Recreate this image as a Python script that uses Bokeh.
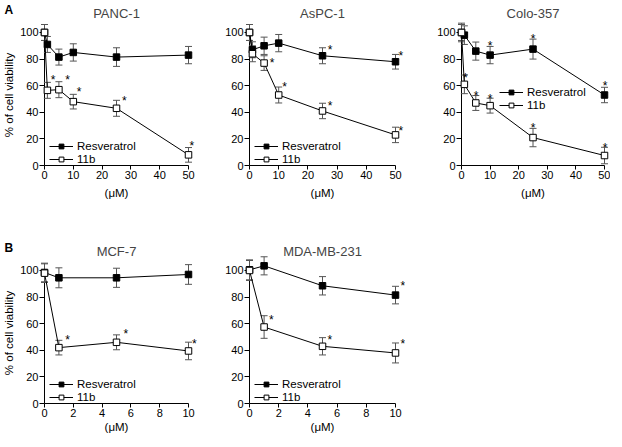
from bokeh.plotting import figure
from bokeh.models import Legend, LegendItem, Range1d
from bokeh.layouts import row, column
from bokeh.embed import file_html
from bokeh.resources import INLINE
from bokeh.core.properties import value

FONT = "Liberation Sans"

# ---------------- data ----------------
conc_A = [0, 1, 5, 10, 25, 50]
conc_B = [0, 1, 5, 10]
ticks_A = [0, 10, 20, 30, 40, 50]
ticks_B = [0, 2, 4, 6, 8, 10]
y_ticks = [0, 20, 40, 60, 80, 100]

panc_res = [100, 91, 81.5, 85, 81.5, 83]
panc_res_err = [6, 6, 6, 6.5, 7, 6.5]
panc_11b = [100, 56.5, 57, 48, 43, 8]
panc_11b_err = [6, 6, 6, 5.5, 6, 5.5]
panc_star_x = [3, 8, 12, 27.7, 51.2]
panc_star_y = [67, 67, 58, 51.5, 18]

aspc_res = [100, 87, 90, 92, 82.5, 78]
aspc_res_err = [6, 6, 6.5, 6.5, 6, 5.5]
aspc_11b = [100, 84, 77, 53, 41, 23]
aspc_11b_err = [6, 6, 5.5, 6, 5.8, 5.8]
aspc_star_x = [7.7, 12, 27.6, 27.6, 51.8, 51.8]
aspc_star_y = [80, 62, 90, 48, 85, 29]

colo_res = [100, 98, 86, 83, 87.5, 53]
colo_res_err = [7, 7, 6.8, 6.5, 7.5, 5.8]
colo_11b = [100, 61, 47, 45, 21, 7.5]
colo_11b_err = [6, 7, 5.6, 5.6, 6.9, 6.2]
colo_star_x = [1.3, 5.1, 10, 25, 50.2, 10, 25, 50.2]
colo_star_y = [69, 55, 53, 31, 16, 92.5, 98, 63]

mcf_res = [98.5, 94.5, 94.5, 97]
mcf_res_err = [7, 7.5, 7.2, 7.4]
mcf_11b = [98, 42, 46, 39.5]
mcf_11b_err = [7, 5.5, 5.6, 6.6]
mcf_star_x = [1.6, 5.65, 10.4]
mcf_star_y = [51, 55, 48]

mda_res = [100.5, 103.5, 88.5, 81.5]
mda_res_err = [7.5, 6.8, 6.9, 6.6]
mda_11b = [100, 57.5, 43, 38]
mda_11b_err = [7.5, 8.5, 6.5, 7.5]
mda_star_x = [1.5, 5.5, 10.5, 10.5]
mda_star_y = [66, 51, 91, 47.5]

series_names = ["Resveratrol", "11b"]

LEG_K = 6.4      # half of a legend row height (px)
ROW_PITCH = 13


def errbars(p, x, y, e, color):
    lo = [a - b for a, b in zip(y, e)]
    hi = [a + b for a, b in zip(y, e)]
    r1 = p.segment(x0=x, y0=lo, x1=x, y1=hi, line_color=color, line_width=1)
    r2 = p.scatter(x=x + x, y=lo + hi, marker="dash", size=7, line_color=color, line_width=1)
    r1.level = "overlay"
    r2.level = "overlay"


def one_legend(label, rends, lx, ly):
    return Legend(items=[LegendItem(label=label, renderers=rends)],
                  location=(lx, ly), padding=0, margin=0, spacing=0,
                  glyph_width=24, glyph_height=12, label_height=12, label_standoff=4,
                  label_text_font=FONT, label_text_font_size="11.5px",
                  label_text_color="black",
                  border_line_color=None, background_fill_alpha=0)


def make_panel(title, x, res, res_err, b11, b11_err, sx, sy, xmax, xticks,
               leg_x, leg_c, b_left, f_w, b_right, b_bottom, ylabel, letter,
               xlabel_standoff):
    p = figure(width=b_left + f_w + b_right, height=22 + 141 + b_bottom,
               frame_width=f_w, frame_height=141,
               min_border_left=b_left, min_border_right=b_right,
               min_border_top=22, min_border_bottom=b_bottom,
               x_range=Range1d(0, xmax), y_range=Range1d(0, 106),
               toolbar_location=None, output_backend="svg",
               title=title)
    p.title.text_font = FONT
    p.title.text_font_size = "13px"
    p.title.text_font_style = "normal"
    p.title.align = "center"
    p.title.standoff = 7
    p.outline_line_color = None
    p.xgrid.visible = False
    p.ygrid.visible = False
    p.background_fill_color = "white"

    p.xaxis.ticker = xticks
    p.yaxis.ticker = y_ticks
    p.xaxis.bounds = (0, xmax)
    p.yaxis.bounds = (0, 100)
    for ax in p.xaxis + p.yaxis:
        ax.axis_line_color = "black"
        ax.major_tick_line_color = "black"
        ax.minor_tick_line_color = None
        ax.major_tick_in = 0
        ax.major_label_text_font = FONT
        ax.major_label_text_font_size = "11px"
        ax.major_label_text_color = "black"
        ax.axis_label_text_font = FONT
        ax.axis_label_text_font_size = "11.5px"
        ax.axis_label_text_font_style = "normal"
        ax.axis_label_text_color = "black"
    p.xaxis.major_tick_out = 4
    p.yaxis.major_tick_out = 5
    p.xaxis.major_label_standoff = 1
    p.yaxis.major_label_standoff = 1
    p.xaxis.axis_label = "(\u03bcM)"
    p.xaxis.axis_label_standoff = xlabel_standoff
    if ylabel:
        p.yaxis.axis_label = "% of cell viability"
        p.yaxis.axis_label_standoff = 2

    errbars(p, x, res, res_err, "#555555")
    errbars(p, x, b11, b11_err, "#555555")
    l1 = p.line(x, res, line_color="black", line_width=1)
    m1 = p.scatter(x, res, marker="square", size=6.5, fill_color="black", line_color="black")
    l2 = p.line(x, b11, line_color="black", line_width=1)
    m2 = p.scatter(x, b11, marker="square", size=6.5, fill_color="white", line_color="black")
    for r in (l1, m1, l2, m2):
        r.level = "overlay"
    st = p.text(x=sx, y=sy, text=["*"] * len(sx), text_font=value(FONT),
                text_font_size="12px", text_align="center", text_baseline="middle",
                text_color="black", y_offset=4)
    st.level = "overlay"

    p.add_layout(one_legend(series_names[0], [l1, m1], leg_x, leg_c - LEG_K))
    p.add_layout(one_legend(series_names[1], [l2, m2], leg_x, leg_c - ROW_PITCH - LEG_K))

    if letter:
        # panel letter at the top-left corner of the canvas
        lt = p.text(x=[p.x_range.start], y=[p.y_range.end], text=[letter],
                    x_offset=-b_left, y_offset=-22, text_font=value(FONT),
                    text_font_size="12px", text_font_style="bold",
                    text_align="left", text_baseline="top", text_color="black")
        lt.level = "overlay"
    return p


f1 = make_panel("PANC-1", conc_A, panc_res, panc_res_err, panc_11b, panc_11b_err,
                panc_star_x, panc_star_y, 50, ticks_A, 5, 19.5, 40, 144, 31, 73, True, "A", 5)
f2 = make_panel("AsPC-1", conc_A, aspc_res, aspc_res_err, aspc_11b, aspc_11b_err,
                aspc_star_x, aspc_star_y, 50, ticks_A, 5, 19.5, 30, 146, 36, 73, False, None, 5)
f3 = make_panel("Colo-357", conc_A, colo_res, colo_res_err, colo_11b, colo_11b_err,
                colo_star_x, colo_star_y, 50, ticks_A, 38, 73, 30, 143, 6, 73, False, None, 5)
f4 = make_panel("MCF-7", conc_B, mcf_res, mcf_res_err, mcf_11b, mcf_11b_err,
                mcf_star_x, mcf_star_y, 10, ticks_B, 5, 19.5, 40, 144, 31, 32, True, "B", 1)
f5 = make_panel("MDA-MB-231", conc_B, mda_res, mda_res_err, mda_11b, mda_11b_err,
                mda_star_x, mda_star_y, 10, ticks_B, 5, 19.5, 30, 146, 10, 32, False, None, 1)

layout = column(row(f1, f2, f3), row(f4, f5))
open("out.html", "w").write(file_html(layout, INLINE))
